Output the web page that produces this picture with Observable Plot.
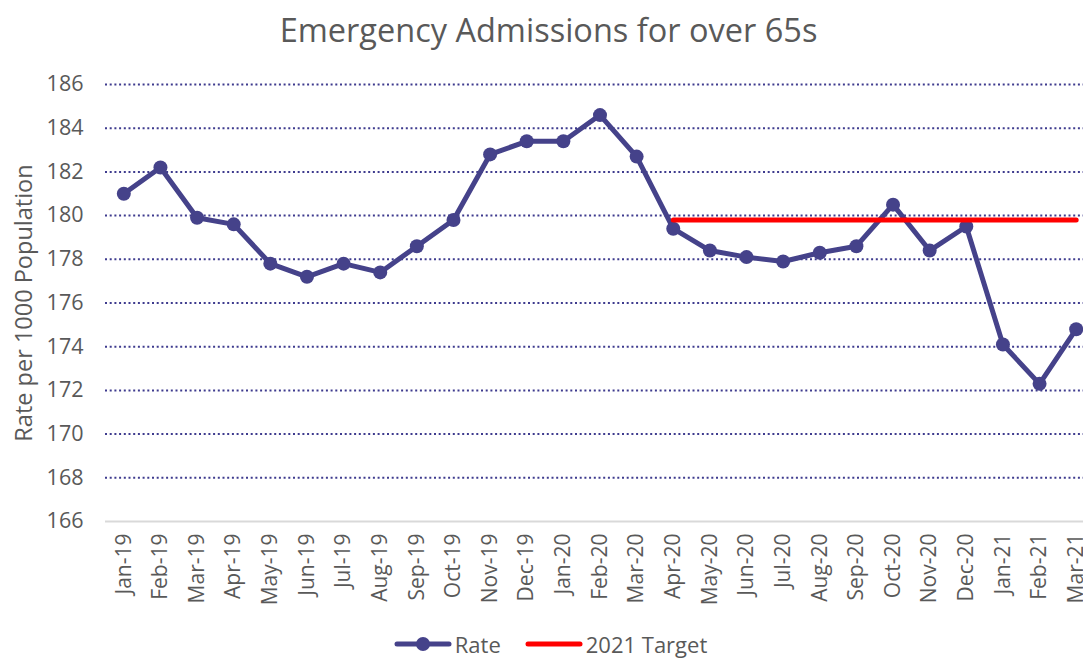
<!DOCTYPE html>
<html>
<head>
<meta charset="utf-8">
<script src="https://cdn.jsdelivr.net/npm/d3@7"></script>
<script src="https://cdn.jsdelivr.net/npm/@observablehq/plot@0.6"></script>
<style>
  html, body { margin: 0; padding: 0; background: #fff; overflow: hidden; }
  body { width: 1083px; height: 661px; font-family: "Open Sans", sans-serif; color: #595959; }
  #title { height: 60px; box-sizing: border-box; padding-top: 8px; padding-left: 14px; text-align: center; font-size: 32.5px; line-height: 44px; color: #595959; white-space: nowrap; }
  #chart { width: 1083px; height: 551px; overflow: hidden; }
  #chart svg { max-width: none !important; }
  #legend { display: flex; justify-content: center; align-items: center; gap: 24px; font-size: 22px; color: #595959; padding-left: 18px; padding-top: 21px; line-height: 24px; }
  .item { display: flex; align-items: center; gap: 3px; }
</style>
</head>
<body>
<div id="title">Emergency Admissions for over 65s</div>
<div id="chart"></div>
<div id="legend">
  <div class="item"><svg width="58" height="16"><line x1="3" y1="8" x2="55" y2="8" stroke="#45428A" stroke-width="5" stroke-linecap="round"/><circle cx="29" cy="8" r="7" fill="#45428A"/></svg><span>Rate</span></div>
  <div class="item"><svg width="58" height="16"><line x1="3" y1="8" x2="55" y2="8" stroke="#FF0000" stroke-width="5" stroke-linecap="round"/></svg><span>2021 Target</span></div>
</div>
<script>
const months = ["Jan-19","Feb-19","Mar-19","Apr-19","May-19","Jun-19","Jul-19","Aug-19","Sep-19","Oct-19","Nov-19","Dec-19",
  "Jan-20","Feb-20","Mar-20","Apr-20","May-20","Jun-20","Jul-20","Aug-20","Sep-20","Oct-20","Nov-20","Dec-20",
  "Jan-21","Feb-21","Mar-21"];
const rate = [181.0,182.2,179.9,179.6,177.8,177.2,177.8,177.4,178.6,179.8,182.8,183.4,
  183.4,184.6,182.7,179.4,178.4,178.1,177.9,178.3,178.6,180.5,178.4,179.5,
  174.1,172.3,174.8];
const targetMonths = ["Apr-20","May-20","Jun-20","Jul-20","Aug-20","Sep-20","Oct-20","Nov-20","Dec-20","Jan-21","Feb-21","Mar-21"];
const targetValue = 179.8;
const yTicks = [166,168,170,172,174,176,178,180,182,184,186];
const yLabel = "Rate per 1000 Population";

const rateData = months.map((m, i) => ({month: m, rate: rate[i]}));
const targetData = targetMonths.map(m => ({month: m, value: targetValue}));

const lineColor = "#45428A";
const gridColor = "#3E3B8E";

const chart = Plot.plot({
  width: 1094,
  height: 551,
  marginTop: 24,
  marginBottom: 90,
  marginLeft: 105,
  marginRight: 0,
  style: {fontFamily: "'Open Sans', sans-serif", color: "#595959", background: "#fff", overflow: "visible"},
  x: {type: "point", domain: months, round: false},
  y: {domain: [166, 186]},
  marks: [
    Plot.gridY(yTicks.filter(t => t > 166), {stroke: gridColor, strokeOpacity: 1, strokeWidth: 2, strokeDasharray: "2,2.7"}),
    Plot.ruleY([166], {stroke: "#D9D9D9", strokeWidth: 2}),
    Plot.axisY(yTicks, {tickSize: 0, tickPadding: 22, fontSize: 21.5, fill: "#595959", label: null}),
    Plot.text([yLabel], {text: d => d, frameAnchor: "left", textAnchor: "middle", rotate: -90, dx: -81, fontSize: 23.5, fill: "#595959"}),
    Plot.axisX({tickSize: 0, tickRotate: -90, tickPadding: 12, fontSize: 21, fill: "#595959", label: null}),
    Plot.lineY(rateData, {x: "month", y: "rate", stroke: lineColor, strokeWidth: 5, strokeLinejoin: "round"}),
    Plot.dot(rateData, {x: "month", y: "rate", r: 7, fill: lineColor, stroke: "none"}),
    Plot.lineY(targetData, {x: "month", y: "value", stroke: "#FF0000", strokeWidth: 5, strokeLinecap: "round"})
  ]
});
chart.style.maxWidth = "none";
chart.style.width = "1094px";
chart.style.height = "551px";
document.getElementById("chart").appendChild(chart);
</script>
</body>
</html>
